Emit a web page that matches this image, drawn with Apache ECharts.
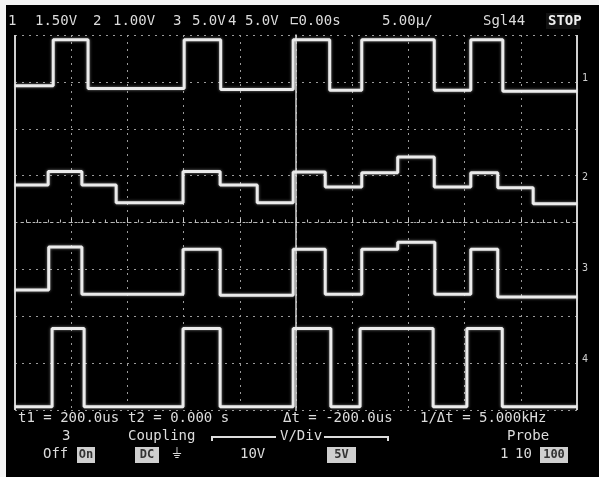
<!DOCTYPE html>
<html>
<head>
<meta charset="utf-8">
<script src="https://cdn.jsdelivr.net/npm/echarts@6/dist/echarts.min.js"></script>
<style>
html,body{margin:0;padding:0;background:#fff;}
#chart{width:599px;height:477px;}
</style>
</head>
<body>
<div id="chart"></div>
<script>
// Time axis in divisions (-5..5), amplitude in divisions (-4..4)
const ch1Times  = [-5, -4.32, -3.70, -1.99, -1.34, -0.05, 0.60, 1.17, 2.46, 3.11, 3.68, 5];
const ch1Levels = [2.92, 3.90, 2.86, 3.90, 2.84, 3.90, 2.82, 3.90, 2.82, 3.90, 2.80];

const ch2Times  = [-5, -4.41, -3.81, -3.20, -2.01, -1.35, -0.69, -0.05, 0.52, 1.17, 1.81, 2.46, 3.11, 3.59, 4.22, 5];
const ch2Levels = [0.80, 1.09, 0.80, 0.42, 1.09, 0.80, 0.42, 1.08, 0.76, 1.06, 1.40, 0.76, 1.06, 0.74, 0.40];

const ch3Times  = [-5, -4.40, -3.81, -2.01, -1.35, -0.05, 0.52, 1.17, 1.81, 2.47, 3.11, 3.59, 5];
const ch3Levels = [-1.44, -0.52, -1.53, -0.57, -1.55, -0.57, -1.53, -0.57, -0.42, -1.53, -0.57, -1.59];

const ch4Times  = [-5, -4.34, -3.77, -2.01, -1.35, -0.05, 0.62, 1.14, 2.44, 3.04, 3.67, 5];
const ch4Levels = [-3.93, -2.26, -3.93, -2.26, -3.93, -2.26, -3.93, -2.26, -3.93, -2.26, -3.93];

const topLabels = ["1", "1.50V", "2", "1.00V", "3", "5.0V", "4", "5.0V", "⊏0.00s", "5.00µ/", "Sgl44"];
const cursorLabels = ["t1 = 200.0us", "t2 = 0.000 s", "Δt = -200.0us", "1/Δt = 5.000kHz"];
const channelMarkers = ["1", "2", "3", "4"];
const markerLevels = [3.05, 0.95, -1.0, -2.95];

function buildSteps(times, levels) {
  const pts = [];
  for (let i = 0; i < levels.length; i++) pts.push([times[i], levels[i]]);
  pts.push([times[times.length - 1], levels[levels.length - 1]]);
  return pts;
}

const TRACE = '#ebebeb';
const FONT = 'DejaVu Sans Mono';

function traceSeries(name, times, levels) {
  return {
    name: name, type: 'line', step: 'end', showSymbol: false, symbol: 'none',
    data: buildSteps(times, levels),
    lineStyle: { color: TRACE, width: 3, shadowColor: 'rgba(255,255,255,0.5)', shadowBlur: 3 },
    animation: false, z: 5
  };
}

const chart = echarts.init(document.getElementById('chart'));

const txt = (x, y, s, opts) => Object.assign({
  type: 'text', left: x, top: y,
  style: { text: s, fill: '#dcdcdc', font: '14px "' + FONT + '"' }
}, opts || {});

const boxed = (x, y, w, h, s) => ({
  type: 'group', left: x, top: y,
  children: [
    { type: 'rect', shape: { x: 0, y: 0, width: w, height: h }, style: { fill: '#cfcfcf' } },
    { type: 'text', style: { x: w / 2, y: h / 2, text: s, fill: '#333', align: 'center', verticalAlign: 'middle', font: 'bold 12px "' + FONT + '"' } }
  ]
});

const graphics = [
  { type: 'rect', left: 0, top: 0, shape: { width: 6, height: 477 }, style: { fill: '#f4f4f4' } },
  { type: 'rect', left: 0, top: 0, shape: { width: 599, height: 5 }, style: { fill: '#f4f4f4' } },
  // top status line
  txt(8, 14, topLabels[0]), txt(35, 14, topLabels[1]),
  txt(93, 14, topLabels[2]), txt(113, 14, topLabels[3]),
  txt(173, 14, topLabels[4]), txt(192, 14, topLabels[5]),
  txt(228, 14, topLabels[6]), txt(245, 14, topLabels[7]),
  txt(290, 14, topLabels[8]), txt(382, 14, topLabels[9]),
  txt(483, 14, topLabels[10]),
  { type: 'rect', left: 546, top: 13, shape: { width: 34, height: 16 }, style: { fill: '#111' } },
  txt(548, 14, 'STOP', { style: { text: 'STOP', fill: '#f0f0f0', font: 'bold 14px "' + FONT + '"' } }),
  // cursor readouts
  txt(18, 411, cursorLabels[0]), txt(128, 411, cursorLabels[1]),
  txt(283, 411, cursorLabels[2]), txt(420, 411, cursorLabels[3]),
  // channel menu
  txt(62, 429, '3'), txt(128, 429, 'Coupling'), txt(280, 429, 'V/Div'), txt(507, 429, 'Probe'),
  { type: 'polyline', shape: { points: [[212, 441], [212, 437], [276, 437]] }, style: { stroke: '#dcdcdc', lineWidth: 2, fill: null } },
  { type: 'polyline', shape: { points: [[324, 437], [388, 437], [388, 441]] }, style: { stroke: '#dcdcdc', lineWidth: 2, fill: null } },
  txt(43, 447, 'Off'), boxed(77, 447, 18, 16, 'On'),
  boxed(135, 447, 24, 16, 'DC'), txt(172, 447, '⏚'),
  txt(240, 447, '10V'), boxed(327, 447, 29, 16, '5V'),
  txt(500, 447, '1'), txt(515, 447, '10'), boxed(540, 447, 28, 16, '100'),
];
// channel markers at right edge
const gridTop = 35, gridH = 375;
channelMarkers.forEach((m, i) => {
  const py = gridTop + (4 - markerLevels[i]) / 8 * gridH;
  graphics.push(txt(582, py - 6, m, { style: { text: m, fill: '#cfcfcf', font: '10px "' + FONT + '"' } }));
});

chart.setOption({
  backgroundColor: '#000',
  animation: false,
  grid: { left: 15, right: 22, top: 35, bottom: 67, show: false },
  xAxis: {
    type: 'value', min: -5, max: 5, interval: 1,
    axisLine: { show: true, onZero: true, lineStyle: { color: '#bbb', type: [2, 4], width: 1 } },
    axisTick: { show: true, inside: true, length: 4, lineStyle: { color: '#ccc' } },
    minorTick: { show: true, splitNumber: 5, length: 3, lineStyle: { color: '#bbb' } },
    axisLabel: { show: false },
    splitLine: { show: true, lineStyle: { color: '#9a9a9a', type: [2, 5], width: 1 } }
  },
  yAxis: {
    type: 'value', min: -4, max: 4, interval: 1,
    axisLine: { show: true, onZero: true, lineStyle: { color: '#d0d0d0', width: 1.5 } },
    axisTick: { show: false },
    axisLabel: { show: false },
    splitLine: { show: true, lineStyle: { color: '#9a9a9a', type: [2, 5], width: 1 } }
  },
  series: [
    traceSeries('1', ch1Times, ch1Levels),
    traceSeries('2', ch2Times, ch2Levels),
    traceSeries('3', ch3Times, ch3Levels),
    Object.assign(traceSeries('4', ch4Times, ch4Levels), {
      markLine: {
        symbol: 'none', silent: true, label: { show: false },
        lineStyle: { color: '#d0d0d0', type: 'solid', width: 2 },
        data: [{ xAxis: -5 }, { xAxis: 5 }]
      }
    })
  ],
  graphic: graphics
});
</script>
</body>
</html>
